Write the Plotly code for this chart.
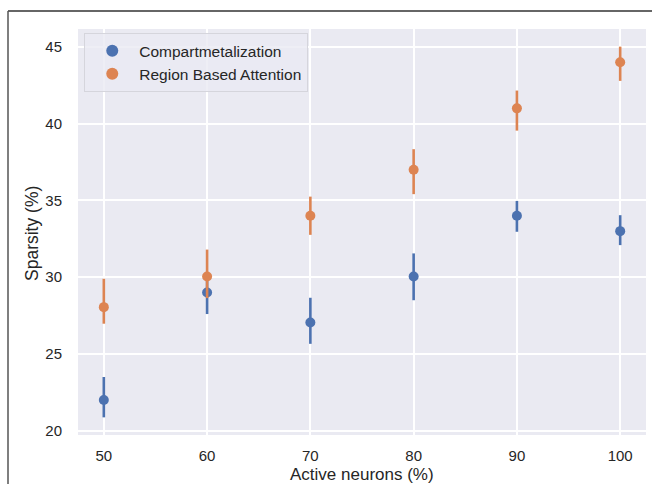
import plotly.graph_objects as go

active = [50, 60, 70, 80, 90, 100]
comp_mean = [22.0, 29.0, 27.05, 30.05, 34.0, 33.0]
comp_hi = [23.5, 30.3, 28.66, 31.55, 34.97, 34.04]
comp_lo = [20.87, 27.6, 25.66, 28.5, 32.96, 32.09]
rba_mean = [28.05, 30.05, 34.0, 37.0, 41.0, 44.0]
rba_hi = [29.9, 31.8, 35.25, 38.34, 42.16, 45.02]
rba_lo = [26.97, 28.64, 32.76, 35.41, 39.55, 42.79]

blue = "#4C72B0"
orange = "#DD8452"
font_family = "Liberation Sans, Arial, sans-serif"
txt = "#262626"

def trace(name, mean, hi, lo, color):
    return go.Scatter(
        x=active, y=mean, name=name, mode="markers",
        marker=dict(color=color, size=10, line=dict(width=0)),
        error_y=dict(type="data", symmetric=False,
                     array=[h - m for h, m in zip(hi, mean)],
                     arrayminus=[m - l for m, l in zip(mean, lo)],
                     color=color, thickness=2.6, width=0),
    )

fig = go.Figure()
fig.add_trace(trace("Compartmetalization", comp_mean, comp_hi, comp_lo, blue))
fig.add_trace(trace("Region Based Attention", rba_mean, rba_hi, rba_lo, orange))

PL, PT, PW, PH = 78, 29, 568, 406

fig.update_layout(
    width=652, height=484,
    margin=dict(l=PL, r=652 - PL - PW, t=PT, b=484 - PT - PH),
    paper_bgcolor="white", plot_bgcolor="#EAEAF2",
    font=dict(family=font_family, color=txt, size=15),
    showlegend=True,
    legend=dict(x=0.011, y=0.99, xanchor="left", yanchor="top",
                bgcolor="rgba(234,234,242,0.8)", bordercolor="#D5D5DC", borderwidth=1,
                font=dict(size=15.5, color=txt), itemsizing="constant", itemwidth=44,
                tracegroupgap=0),
    xaxis=dict(range=[47.5, 102.5], tickvals=active, ticktext=[str(a) for a in active],
               showgrid=True, gridcolor="white", gridwidth=1.6, zeroline=False,
               showline=False, ticks="outside", ticklen=7, tickcolor="rgba(0,0,0,0)",
               tickfont=dict(size=15, color=txt), automargin=False),
    yaxis=dict(range=[19.72, 46.17], tickvals=[20, 25, 30, 35, 40, 45],
               showgrid=True, gridcolor="white", gridwidth=1.6, zeroline=False,
               showline=False, ticks="outside", ticklen=12, tickcolor="rgba(0,0,0,0)",
               tickfont=dict(size=15, color=txt), automargin=False),
)

# axis titles
fig.add_annotation(text="Active neurons (%)", xref="paper", yref="paper",
                   x=0.5, y=(PT + PH - 474) / PH, xanchor="center", yanchor="middle",
                   showarrow=False, font=dict(size=17, color=txt))
fig.add_annotation(text="Sparsity (%)", xref="paper", yref="paper",
                   x=(32 - PL) / PW, y=1 - (234 - PT) / PH, xanchor="center", yanchor="middle",
                   textangle=-90, showarrow=False, font=dict(size=17.5, color=txt))

# frame lines from the original screenshot
fig.add_shape(type="line", xref="paper", yref="paper",
              x0=(8 - PL) / PW, x1=(652 - PL) / PW, y0=1 + (PT - 11) / PH, y1=1 + (PT - 11) / PH,
              line=dict(color="#333333", width=1.5), layer="above")
fig.add_shape(type="line", xref="paper", yref="paper",
              x0=(8 - PL) / PW, x1=(8 - PL) / PW, y0=1 + (PT - 11) / PH, y1=(PT + PH - 484) / PH,
              line=dict(color="#555555", width=1.5), layer="above")

fig.write_html("out.html")
